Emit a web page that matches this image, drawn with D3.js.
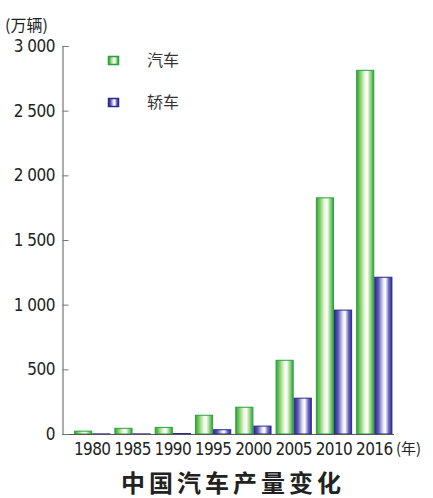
<!DOCTYPE html>
<html><head><meta charset="utf-8">
<script src="https://cdn.jsdelivr.net/npm/d3@7"></script>
<style>
body{margin:0;background:#fff;}
svg{display:block;}
</style></head>
<body>
<svg id="c" width="433" height="498"></svg>
<script>
const years = ["1980","1985","1990","1995","2000","2005","2010","2016"];
const carValues = [22, 44, 51, 145, 207, 570, 1826, 2812];
const sedanValues = [1, 1, 4, 33, 61, 277, 958, 1212];
const seriesNames = ["汽车", "轿车"];
const yTicks = [0, 500, 1000, 1500, 2000, 2500, 3000];
const yTickLabels = ["0", "500", "1 000", "1 500", "2 000", "2 500", "3 000"];

const svg = d3.select("#c");
const defs = svg.append("defs");
function grad(id, stops){
  const g = defs.append("linearGradient").attr("id", id).attr("x1","0").attr("x2","1").attr("y1","0").attr("y2","0");
  stops.forEach(s => g.append("stop").attr("offset", s[0]).attr("stop-color", s[1]));
}
grad("gGreen", [["0%","#2f9e44"],["18%","#72c957"],["45%","#e4f4d6"],["62%","#ffffff"],["82%","#92d37c"],["100%","#2f9e44"]]);
grad("gBlue", [["0%","#2e2c8e"],["20%","#5654ae"],["50%","#e8e8f6"],["62%","#ffffff"],["82%","#6c68c2"],["100%","#2e2c8e"]]);

const x0 = 62, yBase = 434, yTop = 46;
const x = d3.scaleBand().domain(years).range([x0, 404.5]).paddingInner(0.1).paddingOuter(0.3);
const xs = d3.scaleBand().domain([0,1]).range([0, x.bandwidth()]);
const y = d3.scaleLinear().domain([0, 3000]).range([yBase, yTop]);

const fills = ["url(#gGreen)", "url(#gBlue)"];
const strokes = ["#27a040", "#2b2a8e"];
const data = years.map((yr,i) => [carValues[i], sedanValues[i]]);

const groups = svg.append("g").selectAll("g").data(years).join("g")
  .attr("transform", d => `translate(${x(d)},0)`);
groups.selectAll("rect").data((d,i) => data[i].map((v,k)=>({v,k}))).join("rect")
  .attr("x", d => xs(d.k) + 0.5)
  .attr("width", xs.bandwidth() - 1)
  .attr("y", d => y(d.v))
  .attr("height", d => Math.max(0, yBase - y(d.v)))
  .attr("fill", d => fills[d.k])
  .attr("stroke", d => strokes[d.k])
  .attr("stroke-width", 1);

// baseline
svg.append("line").attr("x1", x0).attr("x2", 394).attr("y1", yBase+0.5).attr("y2", yBase+0.5)
  .attr("stroke", "#555").attr("stroke-width", 1.2);

// y axis
const yAxis = d3.axisRight(y).tickValues(yTicks).tickSize(6).tickFormat("");
const ya = svg.append("g").attr("transform", `translate(${x0+0.5},0)`).call(yAxis);
ya.select(".domain").attr("stroke", "#777").attr("stroke-width", 1.2);
ya.selectAll(".tick line").attr("stroke", "#777");
svg.append("g").selectAll("text").data(yTicks).join("text")
  .attr("x", 55).attr("y", d => y(d) + 6)
  .attr("text-anchor", "end")
  .attr("font-family", "Liberation Sans Narrow, DejaVu Sans Condensed, Arial, sans-serif")
  .attr("font-size", 17).attr("fill", "#222")
  .attr("letter-spacing", -0.5)
  .text((d,i) => yTickLabels[i]);

// x labels
svg.append("g").selectAll("text").data(years).join("text")
  .attr("x", d => x(d) + x.bandwidth()/2)
  .attr("y", yBase + 21)
  .attr("text-anchor", "middle")
  .attr("font-family", "Liberation Sans Narrow, DejaVu Sans Condensed, Arial, sans-serif")
  .attr("font-size", 17).attr("fill", "#222")
  .attr("letter-spacing", -0.6)
  .text(d => d);

svg.append("text").attr("x", 396).attr("y", yBase + 20)
  .attr("font-family", "Noto Sans CJK SC, sans-serif").attr("font-size", 15).attr("fill", "#222")
  .text("(年)");

svg.append("text").attr("x", 5).attr("y", 31)
  .attr("font-family", "Noto Sans CJK SC, sans-serif").attr("font-size", 16).attr("fill", "#222")
  .text("(万辆)");

// legend
const leg = svg.append("g");
seriesNames.forEach((n,k) => {
  const ly = 56 + k*42;
  leg.append("rect").attr("x", 108.5).attr("y", ly + 0.5).attr("width", 10).attr("height", 8)
    .attr("fill", fills[k]).attr("stroke", strokes[k]).attr("stroke-width", 1.5);
  leg.append("text").attr("x", 147).attr("y", ly + 10)
    .attr("font-family", "Noto Sans CJK SC, sans-serif").attr("font-size", 16).attr("fill", "#333")
    .text(n);
});

// title
svg.append("text").attr("x", 233).attr("y", 492).attr("text-anchor", "middle")
  .attr("font-family", "Noto Sans CJK SC, sans-serif").attr("font-weight", "bold")
  .attr("font-size", 24).attr("letter-spacing", 4).attr("fill", "#222")
  .text("中国汽车产量变化");
</script>
</body></html>
